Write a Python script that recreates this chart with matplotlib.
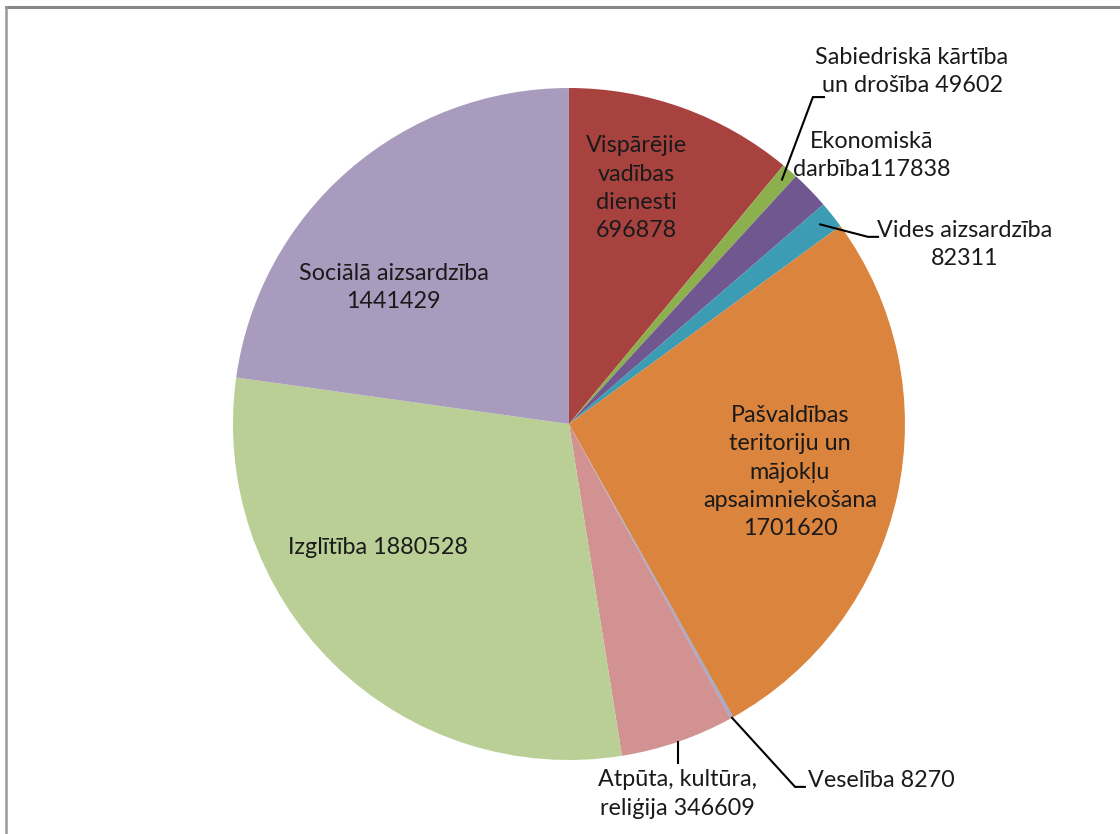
import matplotlib
matplotlib.use("Agg")
import matplotlib.pyplot as plt
import numpy as np

labels = ["Vispārējie\nvadības\ndienesti", "Sabiedriskā kārtība\nun drošība", "Ekonomiskā\ndarbība",
          "Vides aizsardzība\n", "Pašvaldības\nteritoriju un\nmājokļu\napsaimniekošana",
          "Veselība", "Atpūta, kultūra,\nreliģija", "Izglītība", "Sociālā aizsardzība\n"]
values = [696878, 49602, 117838, 82311, 1701620, 8270, 346609, 1880528, 1441429]
seps = ["\n", " ", "", "", "\n", " ", " ", " ", ""]
colors = ["#A8423F", "#8DB04E", "#70578F", "#3C9CB4", "#DB843D",
          "#9AAAD2", "#D29292", "#B9CF96", "#A99BBD"]

plt.rcParams['font.family'] = ['Lato', 'DejaVu Sans']

fig = plt.figure(figsize=(11.2, 8.34), dpi=100)
ax = fig.add_axes([0.208, 0.0887, 0.6, 0.8058])
wedges, _ = ax.pie(values, colors=colors, startangle=90, counterclock=False,
                   radius=1.0, wedgeprops=dict(linewidth=0))
ax.set_xlim(-1, 1)
ax.set_ylim(-1, 1)
ax.set_aspect('equal')
ax.axis('off')

# label positions (in pie units)
pos = [(0.200, 0.702, 'center'), (1.021, 1.048, 'center'), (0.900, 0.798, 'center'),
       (1.179, 0.533, 'center'), (0.658, -0.143, 'center'), (0.711, -1.06, 'left'),
       (0.324, -1.101, 'center'), (-0.570, -0.369, 'center'), (-0.522, 0.405, 'center')]
fs = 16.8
for i, (lab, v, sep) in enumerate(zip(labels, values, seps)):
    x, y, ha = pos[i]
    txt = lab + str(v) if lab.endswith("\n") else lab + sep + str(v)
    ax.text(x, y, txt, ha=ha, va='center', fontsize=fs, color='#1a1a1a',
            linespacing=1.42, clip_on=False)

def edge_pt(w, r=1.0):
    mid = np.deg2rad((w.theta1 + w.theta2) / 2)
    return r * np.cos(mid), r * np.sin(mid)

leaders = {1: (0.965, [(0.726, 0.973), (0.759, 0.973)]),
           3: (0.955, [(0.890, 0.557), (0.920, 0.557)]),
           5: (1.0, [(0.673, -1.080), (0.702, -1.080)])}
for i, (r, pts) in leaders.items():
    sx, sy = edge_pt(wedges[i], r)
    xs = [sx] + [p[0] for p in pts]
    ys = [sy] + [p[1] for p in pts]
    ax.plot(xs, ys, color='black', lw=1.5, clip_on=False, solid_joinstyle='miter')
sx, sy = edge_pt(wedges[6], 1.0)
ax.plot([sx, sx], [sy, -1.01], color='black', lw=1.5, clip_on=False)

# frame lines (top and left)
fig.add_artist(plt.Line2D([6/1120, 1], [1 - 7/834, 1 - 7/834], color='#888888', lw=2.2))
fig.add_artist(plt.Line2D([6/1120, 6/1120], [0, 1 - 7/834], color='#999999', lw=1.8))

fig.savefig("out.png", dpi=100)
